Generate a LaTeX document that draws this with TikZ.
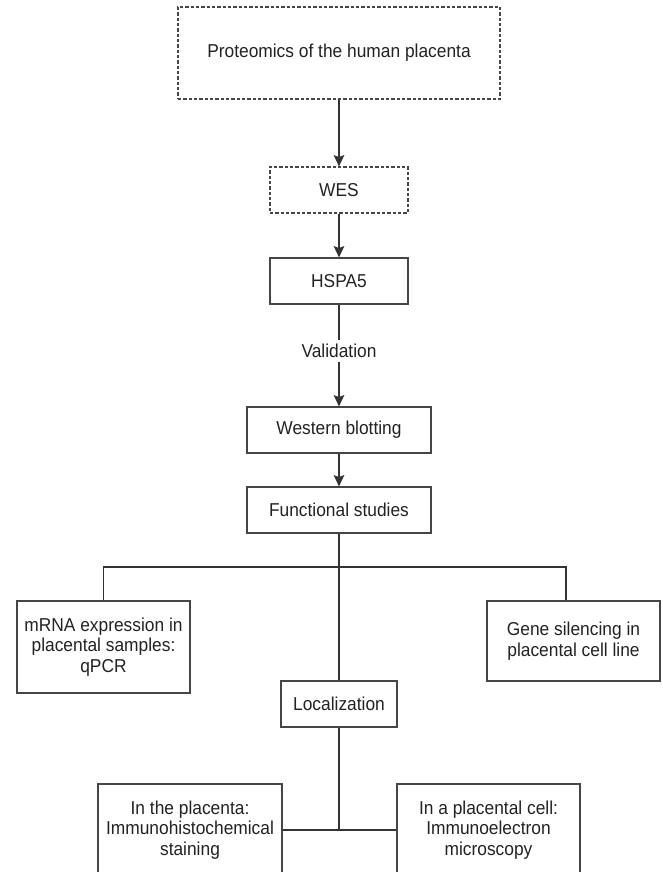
\documentclass[tikz,border=0pt]{standalone}
\usepackage{fontspec}
\setmainfont{Liberation Sans}[FakeStretch=0.93]
\usetikzlibrary{arrows.meta,positioning}
\definecolor{fcLine}  {RGB}{ 51, 51, 51}
\definecolor{fcBorder}{RGB}{ 70, 70, 70}
\definecolor{fcText}  {RGB}{ 34, 34, 34}

\begin{document}
\begin{tikzpicture}[x=0.75pt,y=0.75pt,
  every node/.style={font=\fontsize{14}{15.4}\selectfont,text=fcText},
  flow/.style={draw=fcBorder,line width=0.9pt,align=center,inner sep=0pt,
               minimum height=34.5pt},
  probe/.style={flow,dash pattern=on 2.4pt off 1.6pt},
  link/.style={draw=fcLine,line width=0.9pt},
  arr/.style={link,-{Stealth[length=8.5pt,width=8pt,inset=1.5pt]}}
]
\useasboundingbox (0,0) rectangle (662,-872);
% discovery
\node[probe,minimum width=241.5pt,minimum height=69pt] (prot) at (339,-53)
   {Proteomics of the human placenta};
\node[probe,minimum width=103.5pt] (wes)  at (339,-190) {WES};
\node[flow, minimum width=103.5pt] (hspa) at (339,-281) {HSPA5};
\node[inner sep=3pt] (valid) at (339,-351) {Validation};
% validation and function
\node[flow,minimum width=138pt] (west) at (339,-430) {Western blotting};
\node[flow,minimum width=138pt] (func) at (339,-510) {Functional studies};
% branches
\node[flow,minimum width=129.75pt,minimum height=69pt] (mrna) at (103.5,-647)
   {mRNA expression in\\placental samples:\\qPCR};
\node[flow,minimum width=129.75pt,minimum height=60pt] (gene) at (573.5,-641)
   {Gene silencing in\\placental cell line};
\node[flow,minimum width=87pt] (loc) at (339,-704) {Localization};
\node[flow,minimum width=138pt,minimum height=69pt] (plac) at (190,-830)
   {In the placenta:\\Immunohistochemical\\staining};
\node[flow,minimum width=137.25pt,minimum height=69pt] (cell) at (488.5,-830)
   {In a placental cell:\\Immunoelectron\\microscopy};
\coordinate (busR) at (566,-567);
% connectors
\draw[arr]  (prot.south) -- (wes.north);
\draw[arr]  (wes.south) -- (hspa.north);
\draw[link] (hspa.south) -- (valid.north);
\draw[arr]  (valid.south) -- (west.north);
\draw[arr]  (west.south) -- (func.north);
\draw[link] (func.south) -- (loc.north);
\draw[link] (mrna.north) |- (busR) -- (busR |- gene.north);
\draw[link] (loc.south) -- (loc.south |- plac.east);
\draw[link] (plac.east) -- (cell.west);
\end{tikzpicture}
\end{document}
